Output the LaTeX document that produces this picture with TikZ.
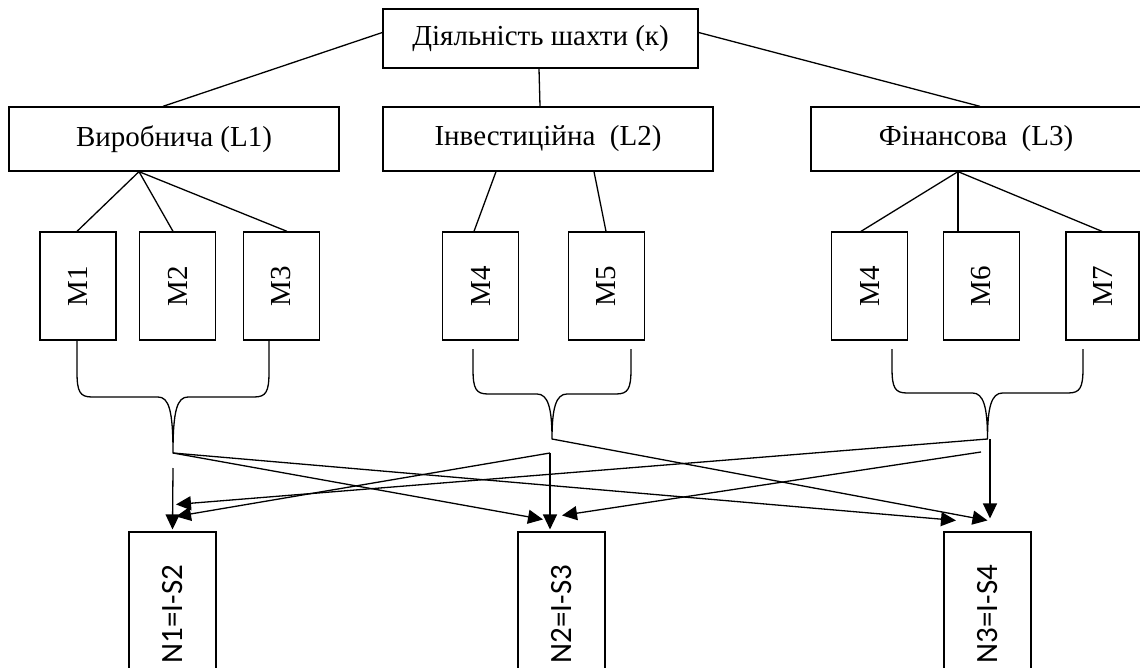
\documentclass[tikz,border=0pt]{standalone}
\usepackage{fontspec}
\usepackage{graphicx}
\setmainfont{Liberation Serif}
\newfontfamily\labelsans{Carlito}
\usetikzlibrary{arrows.meta}

\tikzset{
  box/.style={draw, line width=1.3pt, inner sep=0pt, font=\fontsize{29}{34}\selectfont},
  topbox/.style={box, minimum width=315pt, minimum height=59pt},
  areabox/.style={box, minimum width=330pt, minimum height=64pt},
  mbox/.style={box, minimum width=76pt, minimum height=108pt},
  nbox/.style={draw, line width=1.1pt, inner sep=0pt, minimum width=87pt, minimum height=164pt,
               font=\labelsans\fontsize{31}{36}\selectfont},
  link/.style={line width=1.3pt},
  flow/.style={line width=1.3pt, -{Triangle[length=15pt,width=14pt]}},
  bracket/.style={line width=1.3pt, line join=round},
}

% curly bracket joining a group of boxes: left x, right x, top y, bar y, tip y, tip name
\newcommand{\grpbrace}[6]{%
  \coordinate (#6) at ({(#1+#2)/2},#5);
  \draw[bracket] (#1,#3) -- (#1,#4-25)
    .. controls (#1,#4-5) and (#1+3,#4) .. (#1+15,#4)
    -- ({(#1+#2)/2-15},#4)
    .. controls ({(#1+#2)/2-4},#4) and ({(#1+#2)/2},#4+14) .. (#6)
    .. controls ({(#1+#2)/2},#4+14) and ({(#1+#2)/2+4},#4) .. ({(#1+#2)/2+15},#4)
    -- (#2-15,#4)
    .. controls (#2-3,#4) and (#2,#4-5) .. (#2,#4-25) -- (#2,#3);
}

\begin{document}
\begin{tikzpicture}[x=1pt,y=-1pt]
\useasboundingbox (0,0) rectangle (1140,668);

% top level
\node[topbox] (top) at (540.5,38.5) {Діяльність шахти (к)};

% activity areas
\node[areabox] (l1) at (174,139) {Виробнича (L1)};
\node[areabox] (l2) at (548,139) {Інвестиційна\ \ (L2)};
\node[areabox] (l3) at (976,139) {Фінансова\ \ (L3)};

% methods
\node[mbox] (m1)  at (78,286)    {\rotatebox{90}{M1}};
\node[mbox] (m2)  at (177.5,286) {\rotatebox{90}{M2}};
\node[mbox] (m3)  at (281.5,286) {\rotatebox{90}{M3}};
\node[mbox] (m4)  at (480.5,286) {\rotatebox{90}{M4}};
\node[mbox] (m5)  at (606.5,286) {\rotatebox{90}{M5}};
\node[mbox] (m4b) at (869.5,286) {\rotatebox{90}{M4}};
\node[mbox] (m6)  at (981.5,286) {\rotatebox{90}{M6}};
\node[mbox, minimum width=73pt] (m7) at (1102.5,286) {\rotatebox{90}{M7}};

% results
\node[nbox] (n1) at (172.5,614) {\rotatebox{90}{N1=I-S2}};
\node[nbox] (n2) at (561.5,614) {\rotatebox{90}{N2=I-S3}};
\node[nbox] (n3) at (987.5,614) {\rotatebox{90}{N3=I-S4}};

% tree links
\draw[link] ([yshift=6pt]top.west) -- ([xshift=-11pt]l1.north);
\draw[link] ([xshift=-1.5pt]top.south) -- ([xshift=-8pt]l2.north);
\draw[link] ([yshift=6pt]top.east) -- ([xshift=4pt]l3.north);

\draw[link] ([xshift=-35pt]l1.south) -- ([xshift=-1pt]m1.north);
\draw[link] ([xshift=-35pt]l1.south) -- ([xshift=-4.5pt]m2.north);
\draw[link] ([xshift=-35pt]l1.south) -- ([xshift=5.5pt]m3.north);
\draw[link] ([xshift=-52pt]l2.south) -- ([xshift=-6.5pt]m4.north);
\draw[link] ([xshift=46pt]l2.south) -- ([xshift=-0.5pt]m5.north);
\draw[link] ([xshift=-18pt]l3.south) -- ([xshift=-8.5pt]m4b.north);
\draw[link] ([xshift=-18pt]l3.south) -- ([xshift=-23.5pt]m6.north);
\draw[link] ([xshift=-18pt]l3.south) -- ([xshift=-0.5pt]m7.north);

% brackets under each group
\grpbrace{77}{269}{340}{397}{453}{b1}
\grpbrace{473}{631}{349}{394}{439}{b2}
\grpbrace{892}{1083}{349}{393}{439}{b3}

% arrows to results
\draw[flow] ([yshift=-15pt]b1) -- ([yshift=2pt]n1.north);
\draw[flow] (b1) -- ([shift={(-18.5pt,12pt)}]n2.north);
\draw[flow] (b1) -- ([shift={(-31.5pt,11pt)}]n3.north);

\draw[flow] ([shift={(-2pt,-14pt)}]b2) -- ([shift={(3.5pt,15pt)}]n1.north);
\draw[flow] ([shift={(-2pt,-14pt)}]b2) -- ([shift={(-11.5pt,2pt)}]n2.north);
\draw[flow] (b2) -- ([shift={(0pt,11pt)}]n3.north);

\draw[flow] (b3) -- ([shift={(3.5pt,27pt)}]n1.north);
\draw[flow] ([shift={(-6.5pt,-13pt)}]b3) -- ([shift={(0.5pt,16pt)}]n2.north);
\draw[flow] ([xshift=2.5pt]b3) -- ([shift={(2.5pt,13pt)}]n3.north);
\end{tikzpicture}
\end{document}
